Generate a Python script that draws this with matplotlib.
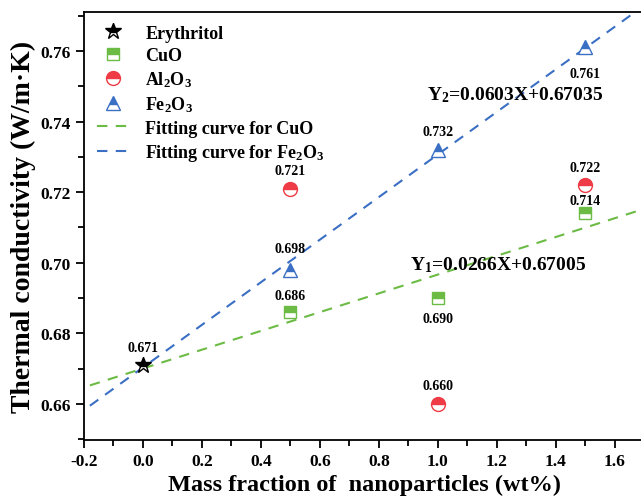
import matplotlib
matplotlib.use("Agg")
import matplotlib.pyplot as plt
import numpy as np

plt.rcParams["font.family"] = ["Liberation Serif", "DejaVu Serif"]
plt.rcParams["font.weight"] = "bold"
plt.rcParams["mathtext.fontset"] = "custom"
plt.rcParams["mathtext.rm"] = "Liberation Serif:bold"
plt.rcParams["mathtext.bf"] = "Liberation Serif:bold"
plt.rcParams["mathtext.it"] = "Liberation Serif:bold:italic"
plt.rcParams["mathtext.default"] = "rm"

# data
base_x = [0.0]
base_y = [0.671]
frac = [0.5, 1.0, 1.5]
cuo = [0.686, 0.690, 0.714]
al2o3 = [0.721, 0.660, 0.722]
fe2o3 = [0.698, 0.732, 0.761]
fit_cuo = (0.0266, 0.67005)
fit_fe = (0.0603, 0.67035)
fit_x = [-0.18, 1.75]

green = "#6cbb45"
red = "#ee3b45"
blue = "#3a6fc4"

fig = plt.figure(figsize=(6.41, 5.02), dpi=100)
ax = fig.add_axes([0.131, 0.1215, 0.874, 0.8525])

ax.plot(base_x, base_y, "*", ms=12, color="black", mfc="black", mfcalt="white",
        fillstyle="top", mew=1, label="Erythritol", zorder=5)
ax.plot(frac, cuo, "s", ms=9, color=green, mfc=green, mfcalt="white",
        fillstyle="top", mew=1, label="CuO", zorder=5)
ax.plot(frac, al2o3, "o", ms=10, color=red, mfc=red, mfcalt="white",
        fillstyle="top", mew=1, label="Al$_2$O$_3$", zorder=5)
ax.plot(frac, fe2o3, "^", ms=10, color=blue, mfc=blue, mfcalt="white",
        fillstyle="top", mew=1, label="Fe$_2$O$_3$", zorder=5)

fx = np.array(fit_x)
ax.plot(fx, fit_cuo[0] * fx + fit_cuo[1], "--", color=green, lw=1.5,
        dashes=(5, 4), label="Fitting curve for CuO")
ax.plot(fx, fit_fe[0] * fx + fit_fe[1], "--", color=blue, lw=1.5,
        dashes=(5, 4), label="Fitting curve for Fe$_2$O$_3$")

# value labels
def label(x, y, dy):
    ax.annotate(f"{y:.3f}", (x, y), xytext=(0, dy), textcoords="offset points",
                ha="center", va="center", fontsize=10, fontweight="bold")

label(0.0, 0.671, 13)
label(0.5, 0.686, 12)
label(1.0, 0.690, -15)
label(1.5, 0.714, 9)
label(0.5, 0.721, 13)
label(1.0, 0.660, 13)
label(1.5, 0.722, 13)
label(0.5, 0.698, 15)
label(1.0, 0.732, 13)
label(1.5, 0.761, -19)

ax.text(0.963, 0.7478, "Y$_2$=0.0603X+0.67035", fontsize=14, fontweight="bold",
        va="center", ha="left")
ax.text(0.905, 0.6996, "Y$_1$=0.0266X+0.67005", fontsize=14, fontweight="bold",
        va="center", ha="left")

ax.set_xlim(-0.2, 1.7)
ax.set_ylim(0.6498, 0.771)
ax.set_xticks(np.arange(-0.2, 1.61, 0.2))
ax.set_xticks(np.arange(-0.2, 1.71, 0.1), minor=True)
ax.set_yticks(np.arange(0.66, 0.761, 0.02))
ax.set_yticks(np.arange(0.65, 0.771, 0.01), minor=True)
ax.xaxis.set_major_formatter(matplotlib.ticker.FormatStrFormatter("%.1f"))
ax.yaxis.set_major_formatter(matplotlib.ticker.FormatStrFormatter("%.2f"))
ax.tick_params(which="both", direction="out", width=1.3, labelsize=12.5)
ax.tick_params(which="major", length=6)
ax.tick_params(which="minor", length=4)
for lab in ax.get_xticklabels() + ax.get_yticklabels():
    lab.set_fontweight("bold")
for s in ax.spines.values():
    s.set_linewidth(1.3)

ax.set_xlabel("Mass fraction of  nanoparticles (wt%)", fontsize=17.5,
              fontweight="bold", labelpad=3)
ax.set_ylabel("Thermal conductivity (W/m·K)", fontsize=20,
              fontweight="bold", labelpad=3)

ax.legend(loc="upper left", frameon=False, fontsize=13, handlelength=1.8,
          handletextpad=0.9, borderaxespad=0.3, labelspacing=0.3,
          bbox_to_anchor=(0.0, 1.0))

fig.savefig("out.png", dpi=100)
